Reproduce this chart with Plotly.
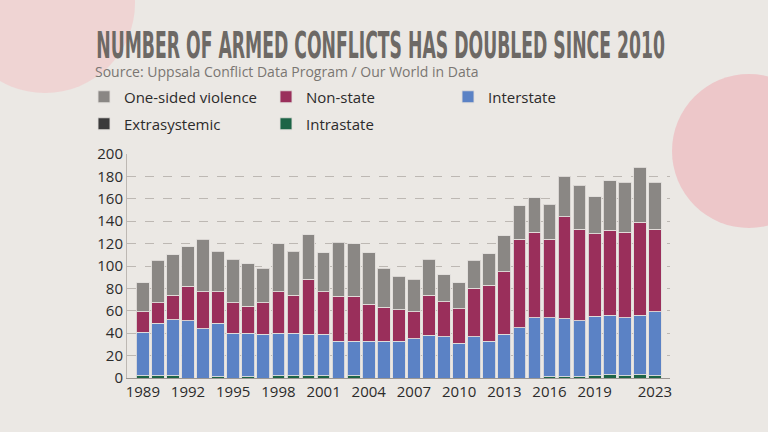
import plotly.graph_objects as go

years = list(range(1989, 2024))

extrasystemic = [0] * 35
intrastate_green = [2, 2, 2, 0, 0, 1, 0, 1, 0, 2, 2, 2, 2, 0, 2, 0, 0, 0, 0, 0,
                    0, 0, 0, 0, 0, 0, 0, 1, 1, 1, 2, 3, 2, 3, 2]
interstate_blue = [39, 47, 50, 51, 44, 48, 40, 39, 39, 38, 38, 37, 37, 33, 31, 33, 33, 33, 35, 38,
                   37, 31, 37, 33, 39, 45, 54, 53, 52, 50, 53, 53, 52, 53, 57]
non_state = [18, 18, 22, 31, 33, 28, 27, 24, 28, 37, 34, 49, 38, 40, 40, 33, 30, 28, 24, 36,
             31, 31, 43, 50, 56, 79, 76, 70, 91, 82, 74, 76, 76, 83, 74]
one_sided = [26, 38, 36, 35, 47, 36, 39, 38, 31, 43, 39, 40, 35, 48, 47, 46, 35, 30, 29, 32,
             24, 23, 25, 28, 32, 30, 31, 31, 36, 39, 33, 44, 45, 49, 42]

tick_years = [1989, 1992, 1995, 1998, 2001, 2004, 2007, 2010, 2013, 2016, 2019, 2023]
y_ticks = [0, 20, 40, 60, 80, 100, 120, 140, 160, 180, 200]

TITLE = "NUMBER OF ARMED CONFLICTS HAS DOUBLED SINCE 2010"
SUBTITLE = "Source: Uppsala Conflict Data Program / Our World in Data"

W, H = 768, 432
ML, MR, MT, MB = 127, 98, 154, 54
BG = "#ebe8e4"
FONT = "Open Sans"
outline = dict(color="rgba(225,222,218,0.9)", width=1)

series = [
    ("Extrasystemic", extrasystemic, "#3b3b3b", "legend2"),
    ("Intrastate", intrastate_green, "#1d6446", "legend2"),
    ("Interstate", interstate_blue, "#5b82c5", "legend"),
    ("Non-state", non_state, "#9a2f5b", "legend"),
    ("One-sided violence", one_sided, "#8a8784", "legend"),
]

fig = go.Figure()
for name, vals, col, leg in series:
    fig.add_trace(go.Bar(
        x=years, y=vals, name=name, legend=leg,
        marker=dict(color=col, line=outline),
        width=0.84,
    ))

pw, ph = W - ML - MR, H - MT - MB
def px_to_paper_x(px):
    return (px - ML) / pw
def px_to_paper_y(py):
    return (H - MB - py) / ph

leg_common = dict(
    orientation="h", xref="paper", yref="paper",
    xanchor="left", yanchor="middle",
    entrywidth=137, itemwidth=30,
    font=dict(family=FONT, size=15, color="#2b2b2b"),
    bgcolor="rgba(0,0,0,0)",
)

fig.update_layout(
    width=W, height=H,
    barmode="stack",
    paper_bgcolor=BG, plot_bgcolor="rgba(0,0,0,0)",
    margin=dict(l=ML, r=MR, t=MT, b=MB, autoexpand=False),
    font=dict(family=FONT, color="#2b2b2b", size=15),
    showlegend=True,
    legend=dict(traceorder="reversed", x=px_to_paper_x(84), y=px_to_paper_y(97), **leg_common),
    legend2=dict(traceorder="normal", x=px_to_paper_x(84), y=px_to_paper_y(124), **leg_common),
    xaxis=dict(
        range=[1987.95, 2024.0],
        tickmode="array", tickvals=tick_years, ticktext=[str(t) for t in tick_years],
        showgrid=False, zeroline=False,
        showline=True, linecolor="#9a9692", linewidth=1,
        ticks="", tickfont=dict(family=FONT, size=15, color="#2b2b2b"),
    ),
    yaxis=dict(
        range=[0, 200], tickmode="array", tickvals=y_ticks,
        showgrid=True, gridcolor="#bdb8b3", griddash="dash", gridwidth=1,
        zeroline=False, showline=True, linecolor="#bdb8b3", linewidth=1,
        ticks="", tickfont=dict(family=FONT, size=15, color="#2b2b2b"),
    ),
)

circles = [((45, 3), 90, "rgba(242,198,200,0.6)"), ((749, 151), 77, "rgba(238,176,184,0.6)")]
shapes = []
for (cx, cy), r, col in circles:
    shapes.append(dict(
        type="circle", xref="paper", yref="paper", layer="below",
        x0=px_to_paper_x(cx - r), x1=px_to_paper_x(cx + r),
        y0=px_to_paper_y(cy + r), y1=px_to_paper_y(cy - r),
        fillcolor=col, line=dict(width=0),
    ))
fig.update_layout(shapes=shapes)

fig.add_annotation(
    text="<b>" + TITLE + "</b>",
    xref="paper", yref="paper", x=px_to_paper_x(94), y=px_to_paper_y(45),
    xanchor="left", yanchor="middle", showarrow=False,
    font=dict(family="DejaVu Sans Condensed", size=37, color="#6d6965"),
)
fig.add_annotation(
    text=SUBTITLE,
    xref="paper", yref="paper", x=px_to_paper_x(93), y=px_to_paper_y(71),
    xanchor="left", yanchor="middle", showarrow=False,
    font=dict(family=FONT, size=14, color="#7a7672"),
)

post = """
document.body.style.margin='0';
var gd = document.getElementById('{plot_id}');
var texts = gd.querySelectorAll('text');
for (var i = 0; i < texts.length; i++) {
  var el = texts[i];
  if (el.textContent.indexOf('NUMBER OF ARMED') === 0) {
    var bb = el.getBBox();
    var s = 569 / bb.width;
    el.style.transformBox = 'fill-box';
    el.style.transformOrigin = 'left center';
    el.style.transform = 'scaleX(' + s + ')';
  }
}
"""

fig.write_html("out.html", post_script=post, config={"displayModeBar": False})
